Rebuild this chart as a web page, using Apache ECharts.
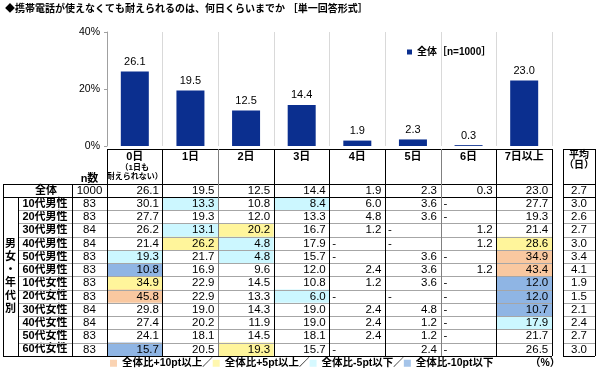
<!DOCTYPE html>
<html><head><meta charset="utf-8">
<script src="https://cdn.jsdelivr.net/npm/echarts@6/dist/echarts.min.js"></script>
<style>html,body{margin:0;padding:0;background:#fff}#c{width:600px;height:371px}</style>
</head><body><div id="c"></div>
<script>
// ---- data ----
const titleText = '◆携帯電話が使えなくても耐えられるのは、何日くらいまでか ［単一回答形式］';
const categories = ['0日','1日','2日','3日','4日','5日','6日','7日以上'];
const category0Note = ['（1日も', '耐えられない）'];
const seriesName = '全体［n=1000］';
const yTicks = [0, 20, 40];
const totalLabel = '全体';
const totalN = 1000;
const totalValues = [26.1, 19.5, 12.5, 14.4, 1.9, 2.3, 0.3, 23.0];
const totalAvg = 2.7;
const groupLabel = '男女・年代別';
const segLabels = ['10代男性','20代男性','30代男性','40代男性','50代男性','60代男性',
                   '10代女性','20代女性','30代女性','40代女性','50代女性','60代女性'];
const segN = [83,83,84,84,83,83,83,83,84,84,83,83];
const segValues = [
  [30.1,13.3,10.8, 8.4, 6.0, 3.6, null,27.7],
  [27.7,19.3,12.0,13.3, 4.8, 3.6, null,19.3],
  [26.2,13.1,20.2,16.7, 1.2, null, 1.2,21.4],
  [21.4,26.2, 4.8,17.9, null,null, 1.2,28.6],
  [19.3,21.7, 4.8,15.7, null, 3.6, null,34.9],
  [10.8,16.9, 9.6,12.0, 2.4, 3.6, 1.2,43.4],
  [34.9,22.9,14.5,10.8, 1.2, 3.6, null,12.0],
  [45.8,22.9,13.3, 6.0, null,null, null,12.0],
  [29.8,19.0,14.3,19.0, 2.4, 4.8, null,10.7],
  [27.4,20.2,11.9,19.0, 2.4, 1.2, null,17.9],
  [24.1,18.1,14.5,18.1, 2.4, 1.2, null,21.7],
  [15.7,20.5,19.3,15.7, null, 2.4, null,26.5]
];
const segAvg = [3.0,2.6,2.7,3.0,3.4,4.1,1.9,1.5,2.1,2.4,2.7,3.0];
const nHeader = 'n数';
const avgHeader = ['平均', '（日）'];
const diffClasses = ['全体比+10pt以上／','全体比+5pt以上／','全体比-5pt以下／','全体比-10pt以下'];
const unitNote = '（%）';

// ---- styles / layout ----
const FF = '"Liberation Sans", "Noto Sans CJK JP", sans-serif';
const barColor = '#0B2F8F';
const classColors = ['#F9C8A0', '#FFF59B', '#CCF7FF', '#8FB5E4'];
const Lx = {plotL:107, plotR:552, plotT:32, plotB:146, headT:149, bodyT:184, bodyB:356,
            nL:72, labL:18, grpL:3, avgL:563, avgR:595};
const rowCount = 1 + segLabels.length;
const rowH = (Lx.bodyB - Lx.bodyT) / rowCount;

function classify(v, base) {
  if (v == null) return -1;
  const d = v - base;
  if (d >= 10) return 0;
  if (d >= 5) return 1;
  if (d <= -10) return 3;
  if (d <= -5) return 2;
  return -1;
}

const rowNames = [totalLabel].concat(segLabels);
const allValues = [totalValues].concat(segValues);
const allN = [totalN].concat(segN);
const allAvg = [totalAvg].concat(segAvg);

const vColors = Array.from({length: categories.length + 1}, (_, i) => (i === 2 || i === 6) ? '#808080' : '#000');
const hColors = Array.from({length: rowCount + 1}, (_, i) => (i <= 1 || i === rowCount) ? '#000' : '#a6a6a6');
const segHColors = Array.from({length: segLabels.length + 1}, (_, i) => (i === 0 || i === segLabels.length) ? '#000' : '#a6a6a6');

function grid(l, t, w, h) { return {left: l, top: t, width: w, height: h, containLabel: false, outerBoundsMode: 'none', show: false}; }
function catAxis(gridIndex, data, colors, extra) {
  return Object.assign({
    type: 'category', gridIndex: gridIndex, data: data, z: 10,
    axisLine: {show: false}, axisTick: {show: false}, axisLabel: {show: false},
    splitLine: {show: true, interval: 0, lineStyle: {color: colors, width: 1}}
  }, extra || {});
}

const grids = [
  grid(Lx.plotL, Lx.plotT, Lx.plotR - Lx.plotL, Lx.plotB - Lx.plotT),           // 0 bar
  grid(Lx.plotL, Lx.headT, Lx.plotR - Lx.plotL, Lx.bodyT - Lx.headT),           // 1 header
  grid(Lx.plotL, Lx.bodyT, Lx.plotR - Lx.plotL, Lx.bodyB - Lx.bodyT),           // 2 body
  grid(Lx.nL, Lx.bodyT, Lx.plotL - Lx.nL, Lx.bodyB - Lx.bodyT),                 // 3 n
  grid(Lx.avgL, Lx.headT, Lx.avgR - Lx.avgL, Lx.bodyT - Lx.headT),              // 4 avg header
  grid(Lx.avgL, Lx.bodyT, Lx.avgR - Lx.avgL, Lx.bodyB - Lx.bodyT),              // 5 avg body
  grid(Lx.grpL, Lx.bodyT, Lx.nL - Lx.grpL, rowH),                               // 6 total label
  grid(Lx.grpL, Lx.bodyT + rowH, Lx.labL - Lx.grpL, Lx.bodyB - Lx.bodyT - rowH), // 7 group
  grid(Lx.labL, Lx.bodyT + rowH, Lx.nL - Lx.labL, Lx.bodyB - Lx.bodyT - rowH)   // 8 seg labels
];

const black2 = ['#000'];
const xAxes = [
  catAxis(0, categories, ['#d9d9d9']),
  catAxis(1, categories, vColors),
  catAxis(2, categories, vColors),
  catAxis(3, [nHeader], black2, {position: 'top',
      axisLabel: {show: true, margin: 0, fontSize: 11, fontWeight: 'bold', color: '#000', interval: 0}}),
  catAxis(4, ['avg'], black2),
  catAxis(5, ['avg'], black2),
  catAxis(6, ['t'], black2),
  catAxis(7, ['g'], black2),
  catAxis(8, ['l'], black2)
];
const yAxes = [
  {type: 'value', gridIndex: 0, z: 10, min: yTicks[0], max: yTicks[yTicks.length - 1], interval: yTicks[1] - yTicks[0],
   axisLine: {show: true, lineStyle: {color: '#a0a0a0'}},
   axisTick: {show: true, length: 3, lineStyle: {color: '#a0a0a0'}},
   axisLabel: {formatter: '{value}%', fontSize: 10.5, color: '#000', margin: 7},
   splitLine: {show: false}},
  catAxis(1, ['h'], black2),
  catAxis(2, rowNames, hColors, {inverse: true}),
  catAxis(3, rowNames, hColors, {inverse: true}),
  catAxis(4, ['h'], black2),
  catAxis(5, rowNames, hColors, {inverse: true}),
  catAxis(6, ['t'], black2),
  catAxis(7, ['g'], black2),
  catAxis(8, segLabels, segHColors, {inverse: true})
];

const numLabel = {show: true, fontSize: 11.5, color: '#000', fontFamily: FF};
function heat(idx, data, label) {
  return {type: 'heatmap', xAxisIndex: idx, yAxisIndex: idx, data: data, silent: true,
          emphasis: {disabled: true}, itemStyle: {color: '#fff', borderWidth: 0}, label: label};
}

const bodyData = [];
allValues.forEach((row, r) => row.forEach((v, c) => {
  const cls = r === 0 ? -1 : classify(v, totalValues[c]);
  const item = {value: [c, r, v == null ? 0 : v],
                itemStyle: {color: cls < 0 ? '#fff' : classColors[cls]}};
  if (v == null) item.label = {position: 'insideLeft', distance: 3, formatter: '-'};
  bodyData.push(item);
}));

const series = [
  {type: 'bar', name: seriesName, xAxisIndex: 0, yAxisIndex: 0, data: totalValues,
   barWidth: 28, itemStyle: {color: barColor}, silent: true,
   label: {show: true, position: 'top', distance: 4, fontSize: 11, color: '#000',
           formatter: p => p.value.toFixed(1)}},
  heat(1, categories.map((c, i) => [i, 0, i]), {
    show: true, position: 'insideTop', distance: 2, color: '#000',
    formatter: p => {
      const i = p.value[0];
      let s = '{a|' + categories[i] + '}';
      if (i === 0) s += '\n{b|' + category0Note[0] + '}\n{b|' + category0Note[1] + '}';
      return s;
    },
    rich: {a: {fontSize: 11, fontWeight: 'bold', lineHeight: 12, color: '#000', fontFamily: FF},
           b: {fontSize: 8, fontWeight: 'bold', lineHeight: 9.5, color: '#000', fontFamily: FF}}
  }),
  heat(2, bodyData, Object.assign({position: 'insideRight', distance: 4,
        formatter: p => p.value[2].toFixed(1)}, numLabel)),
  heat(3, allN.map((n, r) => [0, r, n]), Object.assign({position: 'inside',
        formatter: p => String(p.value[2])}, numLabel)),
  heat(4, [[0, 0, 0]], {show: true, position: 'insideTop', distance: 1,
        formatter: () => avgHeader.join('\n'), fontSize: 10, fontWeight: 'bold', lineHeight: 10.5,
        color: '#000', fontFamily: FF}),
  heat(5, allAvg.map((a, r) => [0, r, a]), Object.assign({position: 'inside',
        formatter: p => p.value[2].toFixed(1)}, numLabel)),
  heat(6, [[0, 0, 0]], {show: true, position: 'inside', offset: [8.5, 0],
        formatter: () => totalLabel, fontSize: 11, fontWeight: 'bold', color: '#000', fontFamily: FF}),
  heat(7, [[0, 0, 0]], {show: true, position: 'inside',
        formatter: () => groupLabel.split('').join('\n'), fontSize: 11, fontWeight: 'bold',
        lineHeight: 13, color: '#000', fontFamily: FF}),
  heat(8, segLabels.map((s, r) => [0, r, r]), {show: true, position: 'inside',
        formatter: p => segLabels[p.value[1]], fontSize: 11, fontWeight: 'bold', color: '#000', fontFamily: FF})
];
diffClasses.forEach((name, i) => series.push({
  type: 'scatter', name: name, xAxisIndex: 0, yAxisIndex: 0, data: [], itemStyle: {color: classColors[i]}
}));

const option = {
  animation: false,
  backgroundColor: '#fff',
  textStyle: {fontFamily: FF},
  title: [
    {text: titleText, left: 5, top: 4, padding: 0,
     textStyle: {fontSize: 10, fontWeight: 'bold', color: '#000', fontFamily: FF}},
    {text: unitNote, left: 530, top: 358, padding: 0,
     textStyle: {fontSize: 10.5, fontWeight: 'bold', color: '#000', fontFamily: FF}}
  ],
  legend: [
    {data: [seriesName], left: 407, top: 47, padding: 0, icon: 'rect', itemWidth: 5, itemHeight: 5,
     selectedMode: false, textStyle: {fontSize: 10, fontWeight: 'bold', color: '#000', fontFamily: FF}},
    {data: diffClasses, left: 110, top: 358, padding: 0, icon: 'rect', itemWidth: 7, itemHeight: 7,
     itemGap: 0, selectedMode: false,
     textStyle: {fontSize: 10.5, fontWeight: 'bold', color: '#000', fontFamily: FF}}
  ],
  grid: grids,
  xAxis: xAxes,
  yAxis: yAxes,
  series: series
};
const chart = echarts.init(document.getElementById('c'), null, {renderer: 'canvas'});
chart.setOption(option);
</script>
</body></html>
